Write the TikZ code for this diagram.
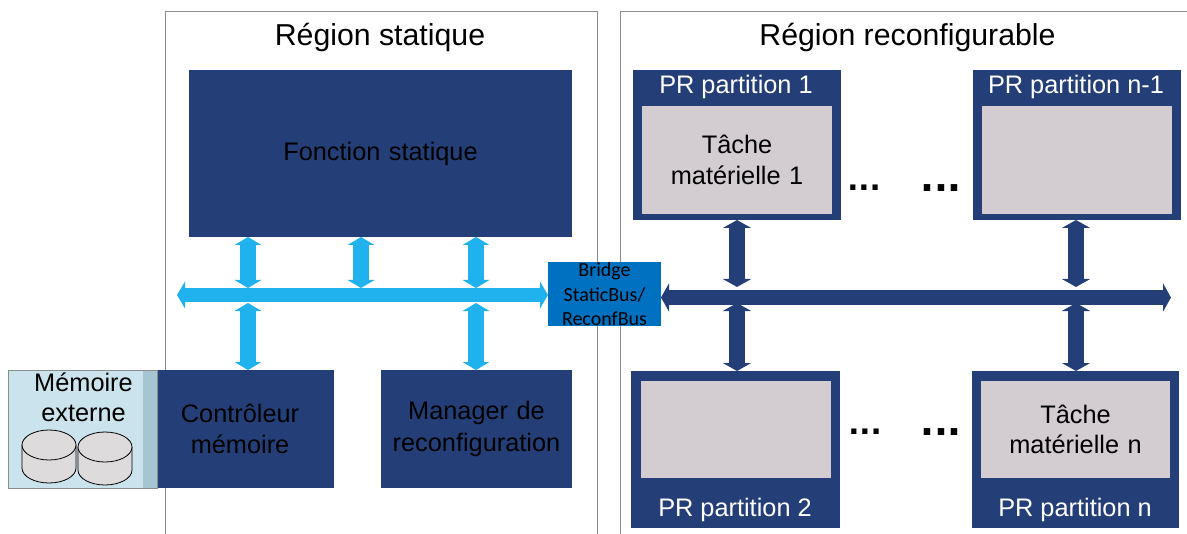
\documentclass[tikz,border=0pt]{standalone}
\usepackage{fontspec}
\setmainfont{Liberation Sans}
\newfontfamily\calib{Carlito}
\newfontfamily\dotsfont{DejaVu Sans}
\usetikzlibrary{arrows.meta,positioning,calc}
\definecolor{navy}{HTML}{243F78}
\definecolor{sky}{HTML}{20B2EE}
\definecolor{bridgeblue}{HTML}{0070C0}
\definecolor{taskgrey}{HTML}{D3CCD1}
\definecolor{memlight}{HTML}{CBE3EC}
\definecolor{memstrip}{HTML}{A5C5D3}
\definecolor{diskgrey}{HTML}{DDDBDB}
\definecolor{regionline}{HTML}{8C8C8C}
\tikzset{
  x=0.75pt,y=-0.75pt,
  boxat/.style args={#1/#2/#3/#4}{anchor=north west,inner sep=0pt,outer sep=0pt,
    minimum width=(#3-#1)*0.75pt,minimum height=(#4-#2)*0.75pt,text width=(#3-#1)*0.75pt,align=center},
  navybox/.style={fill=navy,font=\fontsize{19pt}{23pt}\selectfont,text=black},
  taskbox/.style={fill=taskgrey,font=\fontsize{19pt}{23pt}\selectfont,text=black},
  title/.style={font=\fontsize{22.7pt}{27pt}\selectfont,text=black,inner sep=0pt},
  prlabel/.style={font=\fontsize{19pt}{23pt}\selectfont,text=white,inner sep=0pt},
  dotsa/.style={font=\dotsfont\bfseries\fontsize{22pt}{24pt}\selectfont,text=black,inner sep=0pt,anchor=base},
  dotsb/.style={font=\dotsfont\bfseries\fontsize{27.5pt}{30pt}\selectfont,text=black,inner sep=0pt,anchor=base},
  lightbus/.style={draw=sky,line width=10.5pt,{Triangle[length=6pt,width=20pt]}-{Triangle[length=6pt,width=20pt]}},
  darkbus/.style={draw=navy,line width=11.5pt,{Triangle[length=6pt,width=21pt]}-{Triangle[length=6pt,width=21pt]}},
  darkv/.style={draw=navy,line width=12.5pt,{Triangle[length=6pt,width=21pt]}-{Triangle[length=6pt,width=21pt]}},
  lightv/.style={draw=sky,line width=12.5pt,{Triangle[length=6pt,width=20pt]}-{Triangle[length=6pt,width=20pt]}},
  disk/.style={draw=black,line width=0.6pt,fill=diskgrey},
}
\begin{document}
\begin{tikzpicture}
\useasboundingbox (0,0) rectangle (1187,534);
% regions
\draw[regionline,line width=0.7pt] (165,534) -- (165,11) -- (597,11) -- (597,534);
\draw[regionline,line width=0.7pt] (620,534) -- (620,11) -- (1187,11);
\node[title] (t1) at (380,37.5) {Région statique};
\node[title] (t2) at (907.5,37.5) {Région reconfigurable};
% static boxes
\node[navybox,boxat=189/70/572/237] (fs) at (189,70) {\raisebox{-1.5pt}{Fonction statique}};
\node[navybox,boxat=157/370/334/488] (cm) at (157,370) {\hspace*{-8.2pt}Contrôleur\\\hspace*{-8.2pt}mémoire};
\node[navybox,boxat=381/370/572/488] (mr) at (381,370) {\raisebox{-1pt}{Manager de}\\\raisebox{-1.5pt}{reconfiguration}};
% memory
\node[boxat=8/370/157/488,fill=memlight,draw=regionline,line width=0.6pt] (mem) at (8,370) {};
\fill[memstrip] (143,370.5) rectangle (156.5,487.5);
\node[font=\fontsize{19pt}{22.5pt}\selectfont,align=center,inner sep=0pt,anchor=north] (memt) at (83.5,372.5) {Mémoire\\externe};
% disks
\foreach \cx/\cy in {49/445,105/447}{
  \draw[disk] (\cx-27,\cy) -- (\cx-27,\cy+23) arc[start angle=180,end angle=0,x radius=27,y radius=15] -- (\cx+27,\cy);
  \draw[disk] (\cx,\cy) ellipse[x radius=27,y radius=15];
}
% buses
\node[boxat=548/262/661/326,fill=bridgeblue,text=black,font=\calib\fontsize{15pt}{18.4pt}\selectfont] (br) at (548,262) {\raisebox{-1pt}{Bridge}\\\raisebox{-2pt}{StaticBus/}\\\raisebox{-1.5pt}{ReconfBus}};
\coordinate (bl) at (177,295);
\coordinate (dr) at (1171,297.5);
\draw[lightbus] (bl) -- (bl -| br.west);
\draw[darkbus] (dr -| br.east) -- (dr);
% light verticals
\foreach \xx/\nm in {248/a,361/b,476/c}{
  \coordinate (u\nm) at (\xx,288);
  \draw[lightv] (fs.south -| u\nm) -- (u\nm);
}
\coordinate (la) at (248,303);
\coordinate (lc) at (476,303);
\draw[lightv] (la) -- (la |- cm.north);
\draw[lightv] (lc) -- (lc |- mr.north);
% PR partitions
\node[boxat=633/70/841/220,fill=navy] (p1) at (633,70) {};
\node[boxat=973/70/1181/220,fill=navy] (pn1) at (973,70) {};
\node[boxat=631/371/840/528,fill=navy] (p2) at (631,371) {};
\node[boxat=972/371/1179/528,fill=navy] (pn) at (972,371) {};
\node[taskbox,boxat=642/106/832/214] (t1b) at (642,106) {Tâche\\matérielle 1};
\node[taskbox,boxat=982/106/1172/214] (tn1b) at (982,106) {};
\node[taskbox,boxat=641/381/831/478] (t2b) at (641,381) {};
\node[taskbox,boxat=981/381/1170/478] (tnb) at (981,381) {Tâche\\matérielle n};
\node[prlabel] (l1) at (736,87) {PR partition 1};
\node[prlabel] (ln1) at (1076,87) {PR partition n-1};
\node[prlabel] (l2) at (735,510) {PR partition 2};
\node[prlabel] (ln) at (1075,510) {PR partition n};
% dark verticals
\coordinate (d1a) at (737,287);
\coordinate (d1b) at (737,303);
\coordinate (d2a) at (1076,287);
\coordinate (d2b) at (1076,303);
\draw[darkv] (p1.south -| d1a) -- (d1a);
\draw[darkv] (d1b) -- (d1b |- p2.north);
\draw[darkv] (pn1.south -| d2a) -- (d2a);
\draw[darkv] (d2b) -- (d2b |- pn.north);
% dots
\node[dotsa] (d1) at (864,191) {...};
\node[dotsb] (d2) at (941,192) {...};
\node[dotsa] (d3) at (865,434) {...};
\node[dotsb] (d4) at (941,435) {...};
\end{tikzpicture}
\end{document}
